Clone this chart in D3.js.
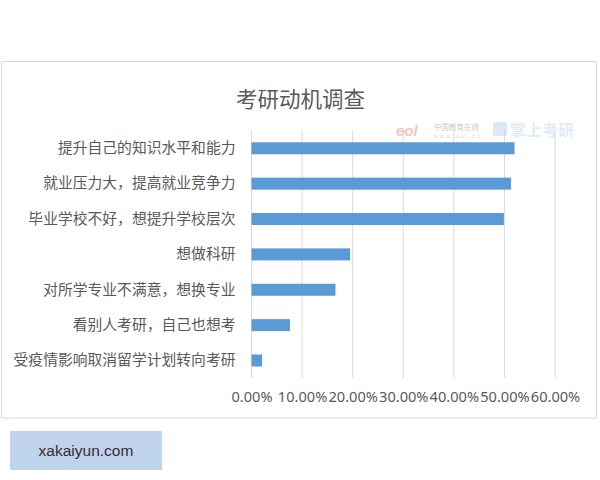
<!DOCTYPE html>
<html><head><meta charset="utf-8">
<script src="https://cdn.jsdelivr.net/npm/d3@7"></script>
<style>body{margin:0;background:#fff}svg{display:block}</style>
</head><body>
<svg id="c" width="600" height="480"></svg>
<script>
const categories = ["提升自己的知识水平和能力","就业压力大，提高就业竞争力","毕业学校不好，想提升学校层次","想做科研","对所学专业不满意，想换专业","看别人考研，自己也想考","受疫情影响取消留学计划转向考研"];
const values = [0.520, 0.513, 0.499, 0.195, 0.166, 0.076, 0.021];
const ticks = [0, 0.1, 0.2, 0.3, 0.4, 0.5, 0.6];
const title = "考研动机调查";

const svg = d3.select("#c");
const cjk = "'Noto Sans CJK SC','Noto Sans',sans-serif";
svg.append("rect").attr("x",1.5).attr("y",61.5).attr("width",595).attr("height",356.5)
  .attr("fill","#fff").attr("stroke","#d9d9d9");

const x = d3.scaleLinear().domain([0,0.6]).range([251.5,555]);
const y = d3.scaleBand().domain(categories).range([130.6,378.2]).paddingInner(0.66).paddingOuter(0.33);

// gridlines
svg.append("g").selectAll("line").data(ticks).join("line")
  .attr("x1",d=>x(d)).attr("x2",d=>x(d)).attr("y1",130.6).attr("y2",378.2)
  .attr("stroke","#d9d9d9").attr("stroke-width",1);

// watermark
const wm = svg.append("g").attr("opacity",0.4);
wm.append("text").attr("x",396).attr("y",136).attr("font-family","Liberation Sans, sans-serif")
  .attr("font-size",15).attr("font-weight","bold").attr("font-style","italic").attr("fill","#e8706a").text("eol");
wm.append("text").attr("x",434).attr("y",130).attr("font-family",cjk).attr("font-size",7.5).attr("fill","#777").text("中国教育在线");
wm.append("text").attr("x",434).attr("y",138).attr("font-family","Liberation Sans, sans-serif").attr("font-size",5.5).attr("fill","#999").attr("letter-spacing",2).text("www.eol.cn");
wm.append("rect").attr("x",493).attr("y",122).attr("width",14).attr("height",14).attr("rx",2).attr("fill","#a9c6ec");
wm.append("text").attr("x",510).attr("y",136).attr("font-family",cjk).attr("font-size",16).attr("font-weight","bold").attr("fill","#b9cfee").text("掌上考研");

// bars
svg.append("g").selectAll("rect").data(values).join("rect")
  .attr("x",x(0)).attr("y",(d,i)=>y(categories[i]))
  .attr("width",d=>x(d)-x(0)).attr("height",y.bandwidth())
  .attr("fill","#5b9bd5");

// category axis
const ya = svg.append("g").attr("transform","translate(251.5,0)")
  .call(d3.axisLeft(y).tickSize(0).tickPadding(16));
ya.select(".domain").remove();
ya.selectAll("text").attr("font-family",cjk).attr("font-size",14.8).attr("fill","#595959");

// value axis
const xa = svg.append("g").attr("transform","translate(0,378.2)")
  .call(d3.axisBottom(x).tickValues(ticks).tickFormat(d3.format(".2%")).tickSize(0).tickPadding(13));
xa.select(".domain").remove();
xa.selectAll("text").attr("font-family","'Noto Sans',sans-serif").attr("font-size",14.6).attr("fill","#595959");

// title
svg.append("text").attr("x",300.5).attr("y",107).attr("text-anchor","middle")
  .attr("font-family",cjk).attr("font-size",21.5).attr("fill","#595959").text(title);

// footer
svg.append("rect").attr("x",10).attr("y",431).attr("width",152).attr("height",39).attr("fill","#c0d3ec");
svg.append("text").attr("x",86).attr("y",456).attr("text-anchor","middle")
  .attr("font-family","'Liberation Sans',Arial,sans-serif").attr("font-size",15.5).attr("fill","#3a2a33").text("xakaiyun.com");
</script>
</body></html>
